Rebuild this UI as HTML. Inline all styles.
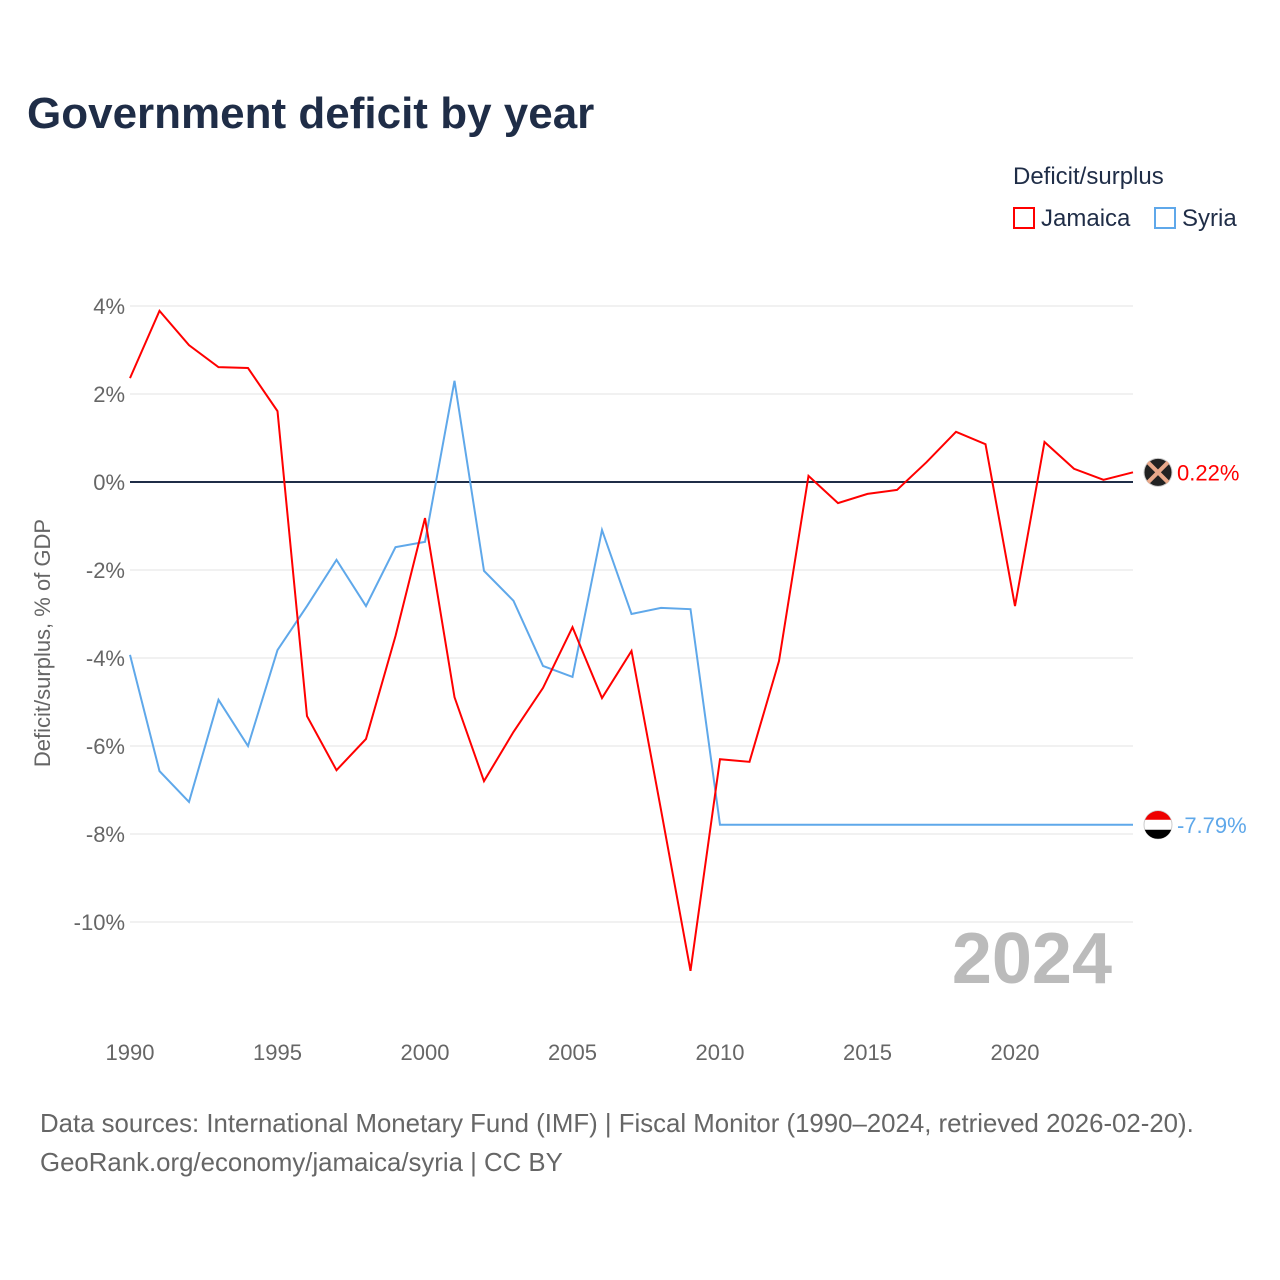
<!DOCTYPE html>
<html><head><meta charset="utf-8"><style>
body{margin:0;background:#fff;font-family:"Liberation Sans",sans-serif}
#wrap{position:relative;width:1280px;height:1280px;overflow:hidden}
.t{position:absolute;white-space:nowrap}
</style></head><body>
<div id="wrap">
<div class="t" style="left:27px;top:89px;font-size:44px;font-weight:bold;color:#1f2d47">Government deficit by year</div>
<div class="t" style="left:1013px;top:163px;font-size:24px;color:#1f2d47">Deficit/surplus</div>
<div class="t" style="left:1013px;top:205px;font-size:24px;color:#1f2d47"><span style="display:inline-block;width:22px;height:22px;border:2px solid #ff0000;box-sizing:border-box;vertical-align:-3px;margin-right:6px"></span>Jamaica</div>
<div class="t" style="left:1154px;top:205px;font-size:24px;color:#1f2d47"><span style="display:inline-block;width:22px;height:22px;border:2px solid #5fa8ea;box-sizing:border-box;vertical-align:-3px;margin-right:6px"></span>Syria</div>
<svg id="chart" width="1280" height="1280" style="position:absolute;left:0;top:0">
<defs><clipPath id="fc"><circle cx="1158" cy="825" r="14"/></clipPath></defs>
</svg>
<div class="t" style="left:40px;top:1105px;font-size:25.8px;color:#666;line-height:39px">Data sources: International Monetary Fund (IMF) | Fiscal Monitor (1990–2024, retrieved 2026-02-20).<br>GeoRank.org/economy/jamaica/syria | CC BY</div>
</div>
<script>
const years=[];for(let y=1990;y<=2024;y++)years.push(y);
const jamaica=[2.36,3.89,3.11,2.61,2.59,1.61,-5.32,-6.55,-5.84,-3.5,-0.82,-4.89,-6.8,-5.68,-4.68,-3.3,-4.91,-3.84,-7.45,-11.11,-6.3,-6.36,-4.07,0.14,-0.48,-0.27,-0.18,0.45,1.14,0.86,-2.82,0.91,0.3,0.05,0.22];
const syria=[-3.93,-6.57,-7.27,-4.95,-6.0,-3.82,-2.82,-1.77,-2.82,-1.48,-1.36,2.3,-2.02,-2.7,-4.18,-4.43,-1.09,-3.0,-2.86,-2.89,-7.79,-7.79,-7.79,-7.79,-7.79,-7.79,-7.79,-7.79,-7.79,-7.79,-7.79,-7.79,-7.79,-7.79,-7.79];
const yTicks=[4,2,0,-2,-4,-6,-8,-10];
const xTicks=[1990,1995,2000,2005,2010,2015,2020];
const NS="http://www.w3.org/2000/svg";
const svg=document.getElementById('chart');
const X=y=>130+(y-1990)*29.5;
const Y=v=>482-v*44;
function mk(t,a){const e=document.createElementNS(NS,t);for(const k in a)e.setAttribute(k,a[k]);svg.appendChild(e);return e;}
yTicks.forEach(v=>{
 const l=mk('line',{x1:130,x2:1133,y1:Y(v),y2:Y(v),stroke:v===0?'#1f2d47':'#e3e3e3','stroke-width':v===0?2:1});
 
 
 const t=mk('text',{x:125,y:Y(v)+8,'text-anchor':'end','font-size':22,fill:'#666','font-family':'Liberation Sans,sans-serif'});
 t.textContent=v+'%';
 
 
});
xTicks.forEach(y=>{
 const t=mk('text',{x:X(y),y:1060,'text-anchor':'middle','font-size':22,fill:'#666','font-family':'Liberation Sans,sans-serif'});
 t.textContent=y;
 
 
});
const yt=mk('text',{x:0,y:0,transform:'translate(50,643) rotate(-90)','text-anchor':'middle','font-size':22,fill:'#666','font-family':'Liberation Sans,sans-serif'});
yt.textContent='Deficit/surplus, % of GDP';


const yr=mk('text',{x:1112,y:983,'text-anchor':'end','font-size':72,'font-weight':'bold',fill:'#bbb','font-family':'Liberation Sans,sans-serif'});
yr.textContent='2024';


function series(vals,color,name){
 const p=mk('polyline',{points:vals.map((v,i)=>X(years[i])+','+Y(v)).join(' '),fill:'none',stroke:color,'stroke-width':2});
 
 
 const last=vals[vals.length-1],cx=1158,cy=Y(last);
 const c=mk('circle',{cx:cx,cy:cy,r:14,fill:name==='jamaica'?'#222':'#fff',stroke:'#ccc','stroke-width':1});
 
 
 if(name==='syria'){
  const r=mk('rect',{x:cx-14,y:cy-14,width:28,height:9,fill:'#e00','clip-path':'url(#fc)'});
  const b=mk('rect',{x:cx-14,y:cy+5,width:28,height:9,fill:'#000','clip-path':'url(#fc)'});
 } else {
  const g=mk('path',{d:`M${cx-10} ${cy-10}L${cx+10} ${cy+10}M${cx+10} ${cy-10}L${cx-10} ${cy+10}`,stroke:'#e8a88a','stroke-width':4});
 }
 const t=mk('text',{x:1177,y:cy+8,'font-size':22,fill:color,'font-family':'Liberation Sans,sans-serif'});
 t.textContent=last.toFixed(2)+'%';
 
 
}
series(syria,'#5fa8ea','syria');
series(jamaica,'#ff0000','jamaica');
</script>
</body></html>
